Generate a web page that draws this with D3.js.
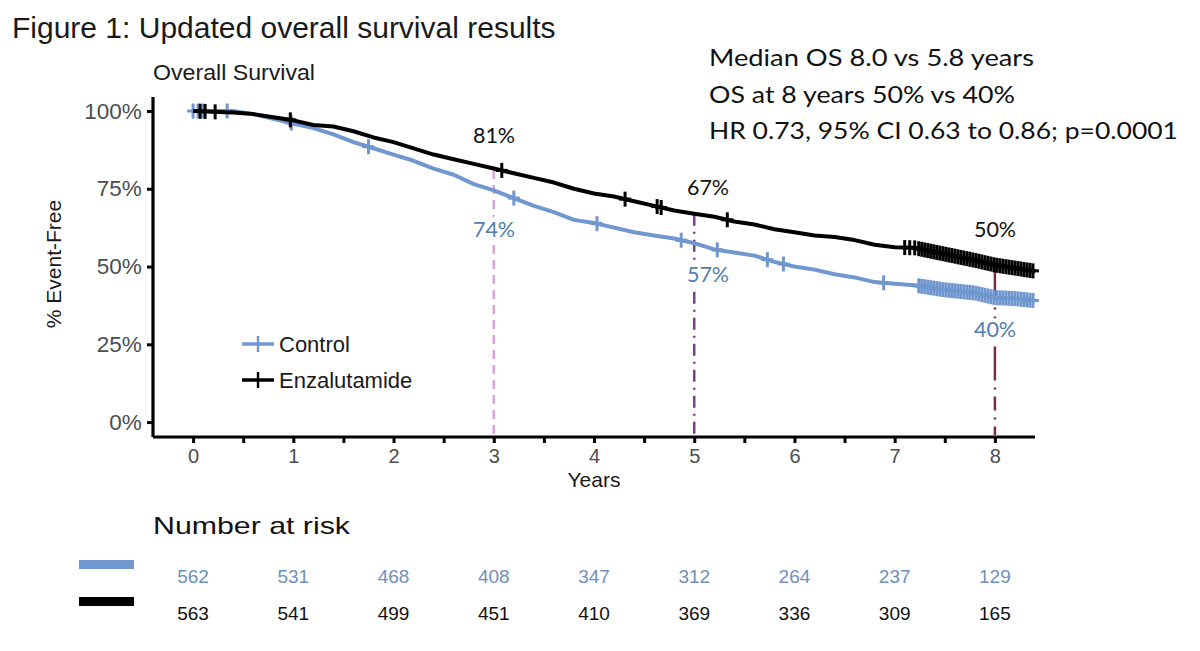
<!DOCTYPE html>
<html>
<head>
<meta charset="utf-8">
<script src="https://cdn.jsdelivr.net/npm/d3@7"></script>
<style>
  body { margin: 0; background: #fff; }
  svg { display: block; }
</style>
</head>
<body>
<svg id="chart" width="1200" height="651"></svg>
<script>
// --- data ---
var controlTime = [0, 0.4, 0.6, 0.8, 1.0, 1.2, 1.4, 1.6, 1.75, 2.0, 2.2, 2.4, 2.6, 2.8, 3.0, 3.2, 3.4, 3.6, 3.8, 4.0,
    4.2, 4.4, 4.6, 4.8, 5.0, 5.2, 5.4, 5.6, 5.8, 6.0, 6.2, 6.4, 6.6, 6.8, 7.0, 7.2, 7.5, 7.8, 8.0, 8.2, 8.4];
var controlSurv = [1.0, 1.0, 0.99, 0.975, 0.96, 0.945, 0.925, 0.9, 0.885, 0.86, 0.84, 0.815, 0.795, 0.765, 0.745, 0.72, 0.695, 0.675, 0.65, 0.64,
    0.625, 0.61, 0.6, 0.59, 0.575, 0.555, 0.545, 0.535, 0.515, 0.5, 0.49, 0.475, 0.465, 0.45, 0.445, 0.44, 0.425, 0.415, 0.40, 0.397, 0.39];
var enzaTime = [0, 0.4, 0.6, 0.8, 1.0, 1.2, 1.4, 1.6, 1.8, 2.0, 2.2, 2.4, 2.6, 2.8, 3.0, 3.2, 3.4, 3.6, 3.8, 4.0,
    4.2, 4.4, 4.6, 4.8, 5.0, 5.2, 5.4, 5.6, 5.8, 6.0, 6.2, 6.4, 6.6, 6.8, 7.0, 7.2, 7.5, 7.8, 8.0, 8.2, 8.4];
var enzaSurv = [1.0, 0.995, 0.99, 0.98, 0.97, 0.955, 0.95, 0.935, 0.915, 0.9, 0.88, 0.86, 0.845, 0.83, 0.815, 0.8, 0.785, 0.77, 0.75, 0.735,
    0.725, 0.71, 0.695, 0.68, 0.67, 0.66, 0.645, 0.635, 0.62, 0.61, 0.6, 0.595, 0.585, 0.57, 0.562, 0.56, 0.54, 0.52, 0.505, 0.495, 0.485];

// censoring marks (+)
var controlCensor = [0.0, 0.05, 0.1, 0.34, 0.98, 1.75, 3.2, 4.03, 4.87, 5.23, 5.73, 5.89, 6.89,
    7.24, 7.27, 7.3, 7.33, 7.36, 7.39, 7.42, 7.45, 7.48, 7.51, 7.54, 7.57, 7.6, 7.63, 7.66, 7.69, 7.72, 7.75, 7.78,
    7.81, 7.84, 7.87, 7.9, 7.93, 7.96, 7.99, 8.02, 8.05, 8.08, 8.11, 8.14, 8.17, 8.2, 8.23, 8.26, 8.29, 8.32, 8.35, 8.38];
var enzaCensor = [0.07, 0.12, 0.22, 0.97, 3.08, 4.31, 4.63, 4.67, 5.33, 7.1, 7.15, 7.2,
    7.24, 7.27, 7.3, 7.33, 7.36, 7.39, 7.42, 7.45, 7.48, 7.51, 7.54, 7.57, 7.6, 7.63, 7.66, 7.69, 7.72, 7.75, 7.78,
    7.81, 7.84, 7.87, 7.9, 7.93, 7.96, 7.99, 8.02, 8.05, 8.08, 8.11, 8.14, 8.17, 8.2, 8.23, 8.26, 8.29, 8.32, 8.35, 8.38];

var riskYears = [0, 1, 2, 3, 4, 5, 6, 7, 8];
var riskControl = [562, 531, 468, 408, 347, 312, 264, 237, 129];
var riskEnza = [563, 541, 499, 451, 410, 369, 336, 309, 165];

// landmark annotations: year, enza %, control %
var markYears = [3, 5, 8];
var markEnza = [0.81, 0.67, 0.50];
var markControl = [0.74, 0.57, 0.40];

var summaryLines = ["Median OS 8.0 vs 5.8 years", "OS at 8 years 50% vs 40%", "HR 0.73, 95% CI 0.63 to 0.86; p=0.0001"];

// --- drawing ---
var blue = "#7097cf", blueText = "#4f7eb0", black = "#000";
var sans = "Liberation Sans, Arial, sans-serif";
var svg = d3.select("#chart");

var x = d3.scaleLinear().domain([-0.4, 8.4]).range([153, 1035]);
var y = d3.scaleLinear().domain([-0.048, 1.045]).range([437, 97]);

// title + subtitle
svg.append("text").attr("x", 12).attr("y", 38)
    .style("font-family", sans).style("font-size", "30px").style("fill", "#1a1a1a")
    .text("Figure 1: Updated overall survival results");
svg.append("text").attr("x", 153).attr("y", 80)
    .attr("textLength", 162).attr("lengthAdjust", "spacingAndGlyphs")
    .style("font-family", sans).style("font-size", "22px").style("fill", "#1a1a1a")
    .text("Overall Survival");

var summaryWidth = [325, 306, 469];
svg.selectAll("text.summary")
    .data(summaryLines)
    .enter().append("text")
    .attr("class", "summary")
    .attr("x", 709)
    .attr("y", function(d, i) { return 66 + i * 36.5; })
    .attr("textLength", function(d, i) { return summaryWidth[i]; })
    .attr("lengthAdjust", "spacingAndGlyphs")
    .style("font-family", "Lato, sans-serif").style("font-size", "23px").style("fill", "#111")
    .text(function(d) { return d; });

// axes
var xAxis = d3.axisBottom(x).tickValues(d3.range(0, 8.01, 0.5)).tickSize(6)
    .tickFormat(function(d) { return d % 1 === 0 ? d : ""; });
var gx = svg.append("g").attr("transform", "translate(0,437)").call(xAxis);
gx.select(".domain").attr("stroke-width", 3.2).attr("d", "M153,0H1035");
gx.selectAll(".tick line").attr("stroke-width", 3);
gx.selectAll(".tick text").attr("dy", "0.85em")
    .style("font-family", sans).style("font-size", "20px").style("fill", "#4d4d4d");

var yAxis = d3.axisLeft(y).tickValues([0, 0.25, 0.5, 0.75, 1]).tickSize(6)
    .tickFormat(function(d) { return Math.round(d * 100) + "%"; });
var gy = svg.append("g").attr("transform", "translate(153,0)").call(yAxis);
gy.select(".domain").attr("stroke-width", 3.2).attr("d", "M0,97V437");
gy.selectAll(".tick line").attr("stroke-width", 3);
gy.selectAll(".tick text").attr("dx", "-0.1em")
    .style("font-family", sans).style("font-size", "22.5px").style("fill", "#4d4d4d");

svg.append("text").attr("transform", "translate(61,264) rotate(-90)").attr("text-anchor", "middle")
    .style("font-family", sans).style("font-size", "21px").style("fill", "#1a1a1a")
    .text("% Event-Free");
svg.append("text").attr("x", x(4)).attr("y", 487).attr("text-anchor", "middle")
    .style("font-family", sans).style("font-size", "21px").style("fill", "#1a1a1a")
    .text("Years");

// landmark vertical lines
var markStyles = [
    { color: "#dba3dc", dash: "9,6" },
    { color: "#7e3c8c", dash: "12,6,2,6" },
    { color: "#7a2a48", dash: "34,7,2,7,14,7,2,7" }
];
markYears.forEach(function(yr, i) {
    svg.append("line")
        .attr("x1", x(yr)).attr("x2", x(yr))
        .attr("y1", y(markEnza[i])).attr("y2", 435)
        .attr("stroke", markStyles[i].color).attr("stroke-width", 2.5)
        .attr("stroke-dasharray", markStyles[i].dash);
});

// KM curves
function kmPath(times, surv) {
    return d3.line()
        .x(function(d) { return x(d[0]); })
        .y(function(d) { return y(d[1]); })(d3.zip(times, surv));
}
function survAt(times, surv, t) {
    var i = d3.bisectRight(times, t) - 1;
    if (i >= times.length - 1) return surv[surv.length - 1];
    var f = (t - times[i]) / (times[i + 1] - times[i]);
    return surv[i] + f * (surv[i + 1] - surv[i]);
}
function drawCurve(times, surv, censor, color) {
    svg.append("path").attr("d", kmPath(times, surv))
        .attr("fill", "none").attr("stroke", color).attr("stroke-width", 4)
        .attr("stroke-linejoin", "round");
    var g = svg.append("g").attr("stroke", color).attr("stroke-width", 3);
    censor.forEach(function(t) {
        var cx = x(t), cy = y(survAt(times, surv, t));
        g.append("line").attr("x1", cx).attr("x2", cx).attr("y1", cy - 7.5).attr("y2", cy + 7.5);
        g.append("line").attr("x1", cx - 6).attr("x2", cx + 6).attr("y1", cy).attr("y2", cy);
    });
}
drawCurve(controlTime, controlSurv, controlCensor, blue);
drawCurve(enzaTime, enzaSurv, enzaCensor, black);

// landmark labels
var labelFont = "Lato, sans-serif";
var enzaLabelPos = [[494, 143], [708, 195], [995, 237]];
var ctrlLabelPos = [[494, 237], [708, 282], [995, 337]];
markYears.forEach(function(yr, i) {
    svg.append("text").attr("x", enzaLabelPos[i][0]).attr("y", enzaLabelPos[i][1]).attr("text-anchor", "middle")
        .style("font-family", labelFont).style("font-size", "21.5px").style("fill", "#111")
        .text(Math.round(markEnza[i] * 100) + "%");
    svg.append("text").attr("x", ctrlLabelPos[i][0]).attr("y", ctrlLabelPos[i][1]).attr("text-anchor", "middle")
        .style("font-family", labelFont).style("font-size", "21.5px").style("fill", blueText)
        .style("stroke", "#fff").style("stroke-width", 8).style("paint-order", "stroke")
        .text(Math.round(markControl[i] * 100) + "%");
});

// legend
var legend = [{ name: "Control", color: blue, y: 344 }, { name: "Enzalutamide", color: black, y: 380 }];
legend.forEach(function(l) {
    var g = svg.append("g").attr("stroke", l.color);
    g.append("line").attr("x1", 242).attr("x2", 274).attr("y1", l.y).attr("y2", l.y).attr("stroke-width", 3.5);
    g.append("line").attr("x1", 258).attr("x2", 258).attr("y1", l.y - 8).attr("y2", l.y + 8).attr("stroke-width", 2.4);
    svg.append("text").attr("x", 279).attr("y", l.y + 8)
        .style("font-family", sans).style("font-size", "22px").style("fill", "#1a1a1a")
        .text(l.name);
});

// number at risk table
svg.append("text").attr("x", 153).attr("y", 534)
    .attr("textLength", 197).attr("lengthAdjust", "spacingAndGlyphs")
    .style("font-family", sans).style("font-size", "24px").style("fill", "#111")
    .text("Number at risk");
svg.append("rect").attr("x", 79).attr("y", 560).attr("width", 55).attr("height", 9).attr("fill", blue);
svg.append("rect").attr("x", 79).attr("y", 597).attr("width", 55).attr("height", 9).attr("fill", black);
svg.selectAll("text.riskC").data(riskControl).enter().append("text")
    .attr("class", "riskC")
    .attr("x", function(d, i) { return x(riskYears[i]); }).attr("y", 583).attr("text-anchor", "middle")
    .style("font-family", sans).style("font-size", "19px").style("fill", "#6f8fc0")
    .text(function(d) { return d; });
svg.selectAll("text.riskE").data(riskEnza).enter().append("text")
    .attr("class", "riskE")
    .attr("x", function(d, i) { return x(riskYears[i]); }).attr("y", 620).attr("text-anchor", "middle")
    .style("font-family", sans).style("font-size", "19px").style("fill", "#111")
    .text(function(d) { return d; });
</script>
</body>
</html>
